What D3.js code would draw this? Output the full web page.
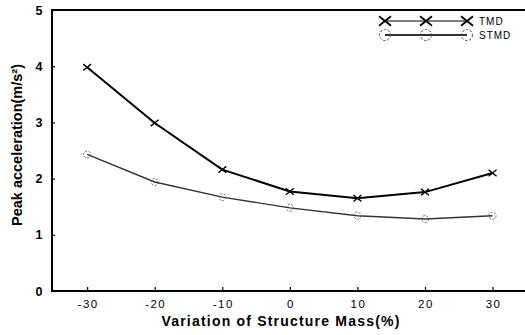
<!DOCTYPE html>
<html>
<head>
<meta charset="utf-8">
<script src="https://cdn.jsdelivr.net/npm/d3@7"></script>
<style>
  html, body { margin: 0; padding: 0; background: #fff; }
  svg { display: block; font-family: Arial, "Liberation Sans", sans-serif; }
</style>
</head>
<body>
<svg id="chart" width="525" height="335"></svg>
<script>
// Structure-mass variation (%) on the x axis
const massVariation = [-30, -20, -10, 0, 10, 20, 30];
// Peak acceleration (m/s²) for each damper type
const tmdPeak  = [3.98, 2.99, 2.16, 1.77, 1.65, 1.76, 2.10];
const stmdPeak = [2.43, 1.94, 1.67, 1.48, 1.34, 1.28, 1.34];
const yTicks = [0, 1, 2, 3, 4, 5];
const xTicks = [-30, -20, -10, 0, 10, 20, 30];
const seriesNames = ["TMD", "STMD"];

const svg = d3.select("#chart");
const plotLeft = 52, plotRight = 525, plotTop = 10, plotBottom = 291;

const x = d3.scaleLinear().domain([-35.2, 34.8]).range([plotLeft, plotRight]);
const y = d3.scaleLinear().domain([0, 5]).range([plotBottom, plotTop]);

// Frame: left axis, bottom axis, top border
svg.append("line").attr("x1", plotLeft).attr("x2", plotLeft).attr("y1", plotTop).attr("y2", plotBottom)
  .attr("stroke", "#000").attr("stroke-width", 2);
svg.append("line").attr("x1", plotLeft - 1).attr("x2", plotRight).attr("y1", plotBottom).attr("y2", plotBottom)
  .attr("stroke", "#000").attr("stroke-width", 2);
svg.append("line").attr("x1", plotLeft - 1).attr("x2", plotRight).attr("y1", plotTop).attr("y2", plotTop)
  .attr("stroke", "#000").attr("stroke-width", 2.2);

// Y axis: short inward ticks and bold labels
const yAxis = svg.append("g").attr("transform", `translate(${plotLeft},0)`)
  .call(d3.axisRight(y).tickValues(yTicks).tickSize(3).tickFormat(""));
yAxis.select(".domain").remove();
yAxis.selectAll(".tick line").attr("stroke", "#000").attr("stroke-width", 1.2);
svg.append("g").selectAll("text").data(yTicks).join("text")
  .attr("x", 39).attr("y", d => y(d)).attr("dy", "0.36em")
  .attr("text-anchor", "middle").attr("font-size", 12.5).attr("font-weight", "bold")
  .text(d => d);

// X axis: short inward ticks and labels
const xAxis = svg.append("g").attr("transform", `translate(0,${plotBottom})`)
  .call(d3.axisTop(x).tickValues(xTicks).tickSize(4).tickFormat(""));
xAxis.select(".domain").remove();
xAxis.selectAll(".tick line").attr("stroke", "#000").attr("stroke-width", 1.2);
svg.append("g").selectAll("text").data(xTicks).join("text")
  .attr("x", d => x(d) + 1).attr("y", 304).attr("dy", "0.36em")
  .attr("text-anchor", "middle").attr("font-size", 11.5)
  .attr("letter-spacing", "1.5px")
  .text(d => d);

// Axis titles
svg.append("text")
  .attr("x", 281).attr("y", 321).attr("dy", "0.36em")
  .attr("text-anchor", "middle").attr("font-size", 14).attr("font-weight", "bold")
  .attr("letter-spacing", "1.2px")
  .text("Variation of Structure Mass(%)");
svg.append("text")
  .attr("transform", "translate(17,145) rotate(-90)")
  .attr("dy", "0.36em")
  .attr("text-anchor", "middle").attr("font-size", 14.5).attr("font-weight", "bold")
  .text("Peak acceleration(m/s²)");

const line = d3.line().x((d, i) => x(massVariation[i])).y(d => y(d));

// STMD series
svg.append("path").datum(stmdPeak).attr("d", line)
  .attr("fill", "none").attr("stroke", "#333").attr("stroke-width", 1.4);
svg.append("g").selectAll("circle").data(stmdPeak).join("circle")
  .attr("cx", (d, i) => x(massVariation[i])).attr("cy", d => y(d)).attr("r", 3.5)
  .attr("fill", "none").attr("stroke", "#555").attr("stroke-width", 0.9)
  .attr("stroke-dasharray", "2,1.5");

// TMD series
svg.append("path").datum(tmdPeak).attr("d", line)
  .attr("fill", "none").attr("stroke", "#000").attr("stroke-width", 2);
const cross = (g, cx, cy, s, w) => {
  g.append("path")
    .attr("d", `M${cx - s},${cy - s * 0.8}L${cx + s},${cy + s * 0.8}M${cx - s},${cy + s * 0.8}L${cx + s},${cy - s * 0.8}`)
    .attr("stroke", "#000").attr("stroke-width", w).attr("fill", "none");
};
const tmdMarks = svg.append("g");
tmdPeak.forEach((d, i) => cross(tmdMarks, x(massVariation[i]), y(d), 4, 1.4));

// Legend
const legendX = [385, 426, 467];
const legendY = [21, 35];
const legend = svg.append("g");
legend.append("line").attr("x1", legendX[0]).attr("x2", legendX[2]).attr("y1", legendY[0]).attr("y2", legendY[0])
  .attr("stroke", "#000").attr("stroke-width", 1.2);
legendX.forEach(lx => cross(legend, lx, legendY[0], 6, 1.8));
legend.append("line").attr("x1", legendX[0]).attr("x2", legendX[2]).attr("y1", legendY[1]).attr("y2", legendY[1])
  .attr("stroke", "#333").attr("stroke-width", 1.8);
legend.selectAll("circle").data(legendX).join("circle")
  .attr("cx", d => d).attr("cy", legendY[1]).attr("r", 5.5)
  .attr("fill", "none").attr("stroke", "#444").attr("stroke-width", 0.9)
  .attr("stroke-dasharray", "2.5,1.5");
legend.selectAll("text").data(seriesNames).join("text")
  .attr("x", 479).attr("y", (d, i) => legendY[i]).attr("dy", "0.36em")
  .attr("font-size", 10).attr("letter-spacing", "1px")
  .text(d => d);
</script>
</body>
</html>
